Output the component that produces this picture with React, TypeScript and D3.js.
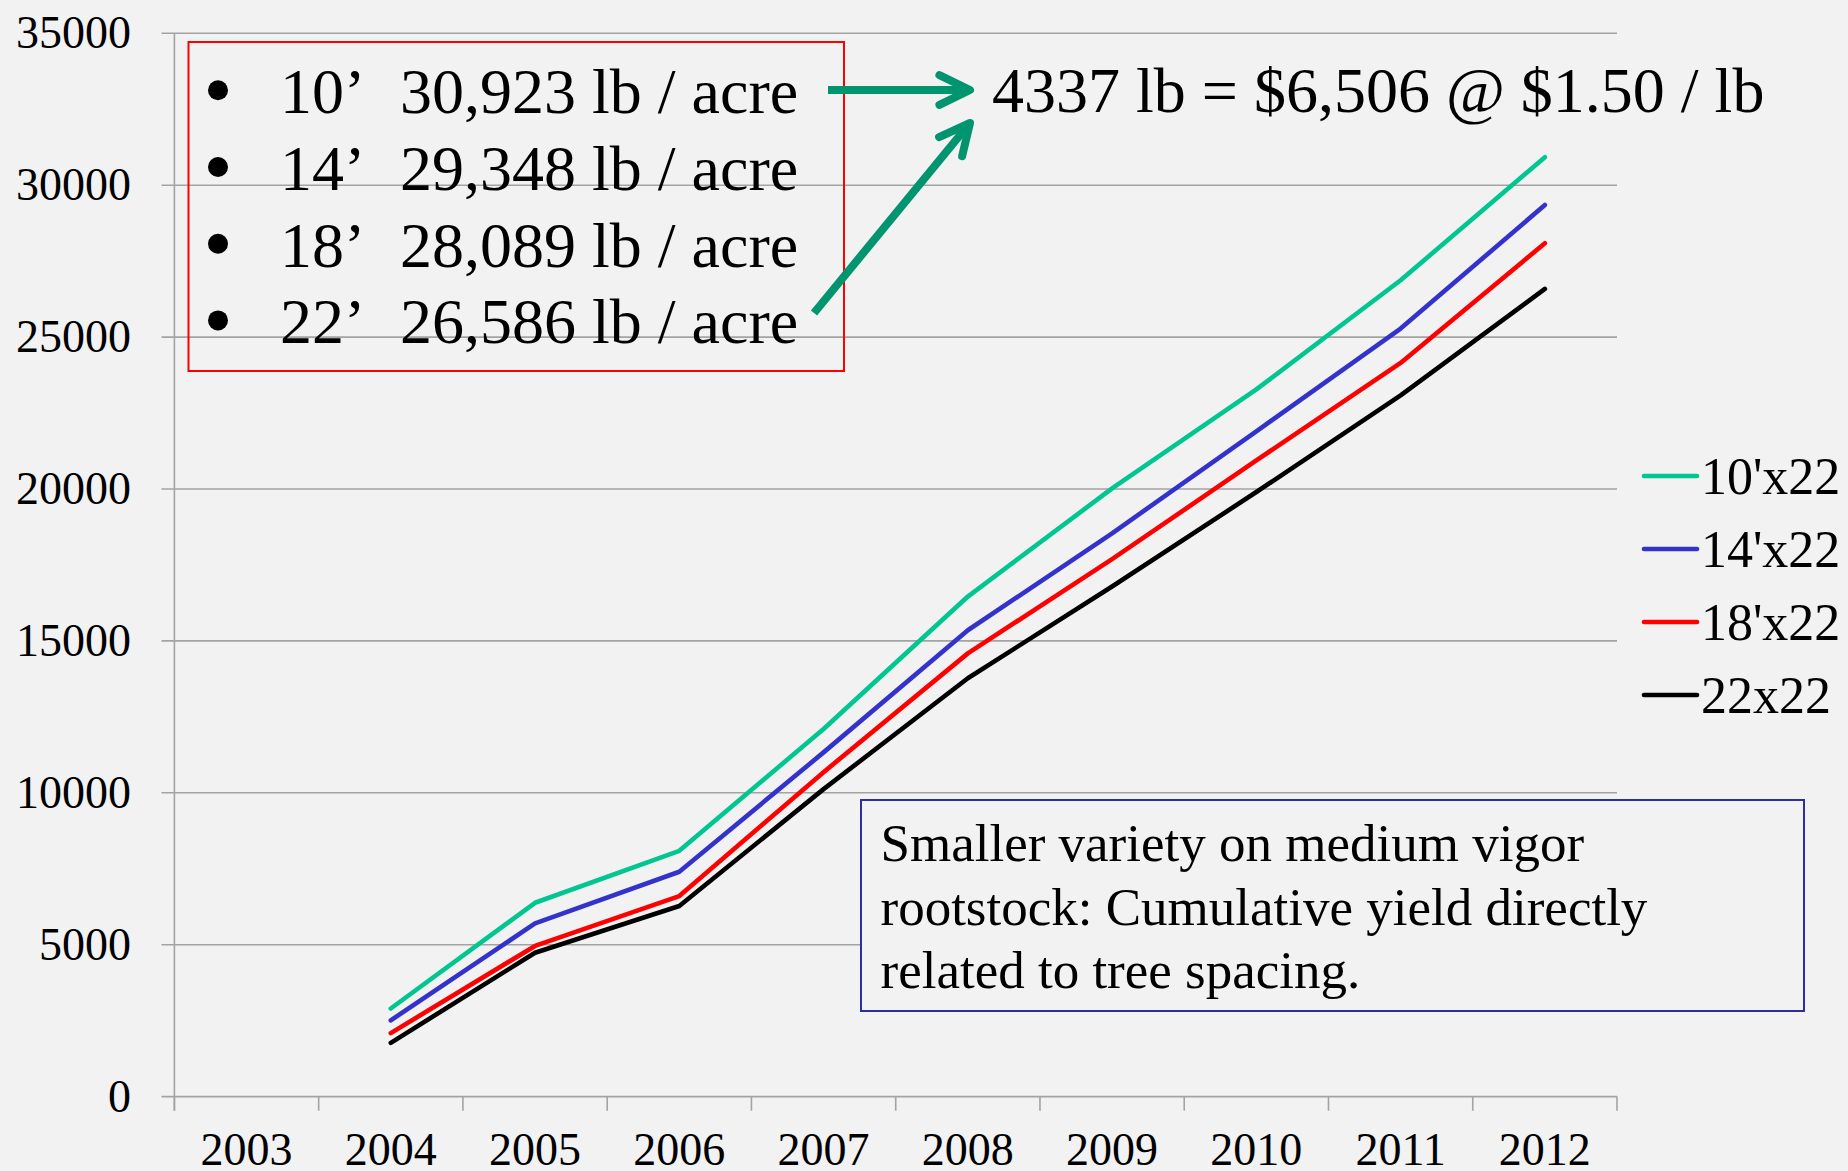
import React from "react";
import * as d3 from "d3";

const years = ["2003", "2004", "2005", "2006", "2007", "2008", "2009", "2010", "2011", "2012"];
const dataYears = ["2004", "2005", "2006", "2007", "2008", "2009", "2010", "2011", "2012"];
const s10 = [2900, 6380, 8090, 12100, 16460, 20020, 23280, 26870, 30923];
const s14 = [2510, 5700, 7400, 11330, 15350, 18540, 21900, 25280, 29348];
const s18 = [2090, 4960, 6600, 10680, 14590, 17690, 20940, 24150, 28089];
const s22 = [1770, 4735, 6275, 10120, 13770, 16790, 19900, 23080, 26586];
const seriesNames = ["10'x22", "14'x22", "18'x22", "22x22"];
const seriesColors = ["#00C690", "#3333CC", "#FF0000", "#000000"];
const yTicks = [0, 5000, 10000, 15000, 20000, 25000, 30000, 35000];
const bulletLabels = ["10’", "14’", "18’", "22’"];
const bulletValues = ["30,923 lb / acre", "29,348 lb / acre", "28,089 lb / acre", "26,586 lb / acre"];
const noteLines = ["Smaller variety on medium vigor", "rootstock: Cumulative yield directly", "related to tree spacing."];
const headline = "4337 lb = $6,506 @ $1.50 / lb";

const W = 1848, H = 1171;
const FONT = "'Liberation Serif', 'Times New Roman', serif";
const GRID = "#a3a3a3";
const ARROW = "#00956E";

function arrowPath(x1: number, y1: number, x2: number, y2: number) {
  const a = Math.atan2(y2 - y1, x2 - x1);
  const len = 34, spread = (26 * Math.PI) / 180;
  const p1 = [x2 - len * Math.cos(a - spread), y2 - len * Math.sin(a - spread)];
  const p2 = [x2 - len * Math.cos(a + spread), y2 - len * Math.sin(a + spread)];
  return {
    shaft: `M${x1},${y1}L${x2},${y2}`,
    head: `M${p1[0]},${p1[1]}L${x2},${y2}L${p2[0]},${p2[1]}`,
  };
}

export default function App() {
  const x = d3.scaleBand<string>().domain(years).range([174.4, 1617]).padding(0);
  const y = d3.scaleLinear().domain([0, 35000]).range([1096.6, 33.3]);
  const cx = (yr: string) => (x(yr) as number) + x.bandwidth() / 2;
  const series = [s10, s14, s18, s22];
  const line = d3
    .line<number>()
    .x((_, i) => cx(dataYears[i]))
    .y((v) => y(v));

  const a1 = arrowPath(828, 90, 970, 90);
  const a2 = arrowPath(814, 313, 970, 123);

  const boundaries = years.map((yr) => x(yr) as number).concat([x.range()[1]]);

  return (
    <div style={{ position: "absolute", left: 0, top: 0 }}>
      <svg width={W} height={H} style={{ display: "block", background: "#f2f2f2" }} fontFamily={FONT}>
        <rect x={0} y={0} width={W} height={H} fill="#f2f2f2" />
        {yTicks.map((t) => (
          <line key={t} x1={161.5} x2={1617} y1={y(t)} y2={y(t)} stroke={GRID} strokeWidth={1.6} />
        ))}
        <line x1={174.4} x2={174.4} y1={y(35000)} y2={1110.7} stroke={GRID} strokeWidth={1.6} />
        {boundaries.map((b, i) => (
          <line key={i} x1={b} x2={b} y1={y(0)} y2={1110.7} stroke={GRID} strokeWidth={1.6} />
        ))}
        {yTicks.map((t) => (
          <text key={t} x={131} y={y(t) + 15} textAnchor="end" fontSize={46} fill="#000">
            {t}
          </text>
        ))}
        {years.map((yr) => (
          <text key={yr} x={cx(yr)} y={1165} textAnchor="middle" fontSize={46} fill="#000">
            {yr}
          </text>
        ))}
        {series.map((s, i) => (
          <path
            key={i}
            d={line(s) || ""}
            fill="none"
            stroke={seriesColors[i]}
            strokeWidth={4.6}
            strokeLinejoin="round"
            strokeLinecap="round"
          />
        ))}
        {seriesNames.map((n, i) => {
          const ly = 476 + i * 73;
          return (
            <g key={n}>
              <line x1={1644} x2={1697} y1={ly} y2={ly} stroke={seriesColors[i]} strokeWidth={4.6} strokeLinecap="round" />
              <text x={1701} y={ly + 18} fontSize={52} fill="#000">
                {n}
              </text>
            </g>
          );
        })}
        <rect x={188.5} y={42} width={655.5} height={329} fill="none" stroke="#FF0000" strokeWidth={2} />
        {bulletLabels.map((lab, i) => {
          const by = 113.3 + i * 76.7;
          return (
            <g key={lab}>
              <circle cx={218} cy={by - 23} r={10} fill="#000" />
              <text x={280} y={by} fontSize={64} fill="#000">
                {lab}
              </text>
              <text x={400} y={by} fontSize={64} fill="#000">
                {bulletValues[i]}
              </text>
            </g>
          );
        })}
        {[a1, a2].map((a, i) => (
          <g key={i} stroke={ARROW} strokeWidth={8} fill="none">
            <path d={a.shaft} strokeLinecap="butt" />
            <path d={a.head} strokeLinecap="round" strokeLinejoin="round" />
          </g>
        ))}
        <text x={992} y={112} fontSize={64} fill="#000">
          {headline}
        </text>
        <rect x={861} y={800} width={943} height={211} fill="#f2f2f2" stroke="#2E2EA0" strokeWidth={2} />
        {noteLines.map((t, i) => (
          <text key={i} x={880.5} y={861 + i * 63.7} fontSize={53} fill="#000">
            {t}
          </text>
        ))}
      </svg>
    </div>
  );
}
